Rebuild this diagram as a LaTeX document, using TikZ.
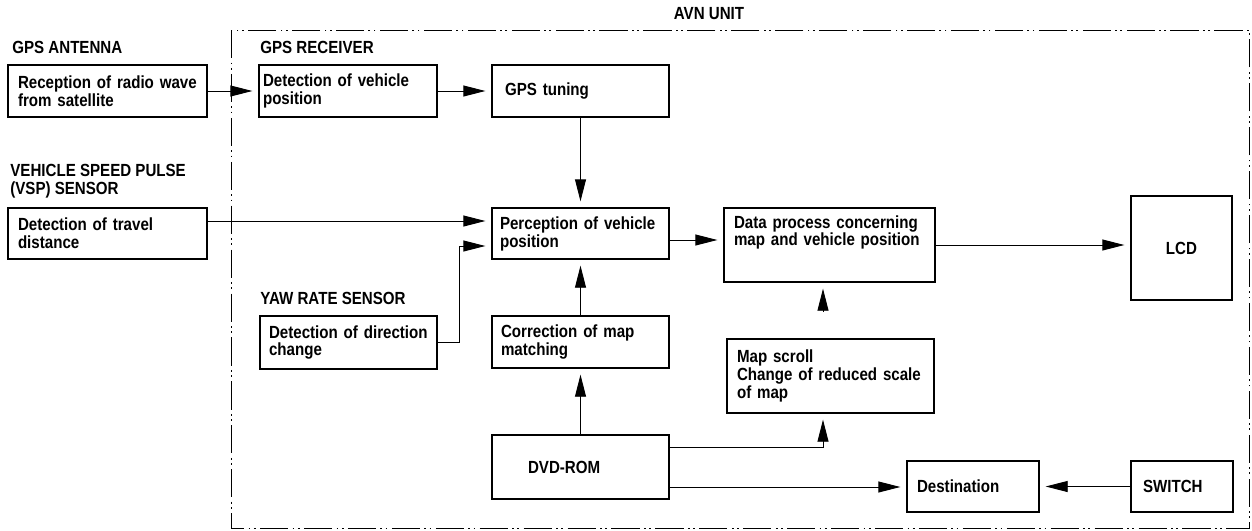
\documentclass[tikz,border=0pt]{standalone}
\usepackage{fontspec}
\setmainfont{Liberation Sans}[FakeStretch=0.86]
\usepackage{tikz}
\usetikzlibrary{arrows.meta}

\begin{document}
\begin{tikzpicture}[x=0.02cm,y=-0.02cm,
   every node/.style={font=\fontsize{10}{10.2}\selectfont\bfseries},
   blk/.style={draw,rectangle,line width=0.8pt,align=left,inner ysep=0.1cm},
   lbl/.style={inner sep=0pt,align=left},
   arr/.style={line width=0.5pt,-{Triangle[length=0.44cm,width=0.22cm]},shorten >=0.12cm},
   avnframe/.style={line width=0.5pt,dash pattern=on 16pt off 2.5pt on 1pt off 2pt on 1pt off 2.5pt}]
\useasboundingbox (0,0) rectangle (1252,531);
\draw[avnframe] (231,30) rectangle (1249,528);

% titles
\node[lbl] (avnlbl) at (709,14) {AVN UNIT};
\node[lbl,anchor=base west] (antlbl) at (12,53) {GPS ANTENNA};
\node[lbl,anchor=base west] (rcvlbl) at (260,53) {GPS RECEIVER};
\node[lbl,anchor=north west] (vsplbl) at (10,164) {VEHICLE SPEED PULSE\\(VSP) SENSOR};
\node[lbl,anchor=base west] (yawlbl) at (260,304) {YAW RATE SENSOR};

% blocks
\node[blk,inner xsep=0.2cm,text width=3.58cm,minimum height=1.04cm] (recv) at (107.5,91) {Reception of radio wave\\from satellite};
\node[blk,inner xsep=0.08cm,text width=3.40cm,minimum height=1.04cm] (detpos) at (348,91) {Detection of vehicle\\position};
\node[blk,inner xsep=0.26cm,text width=3.02cm,minimum height=1.04cm] (tune) at (580.5,91) {GPS tuning};
\node[blk,inner xsep=0.2cm,text width=3.58cm,minimum height=1.02cm] (travel) at (107.5,233.5) {Detection of travel\\distance};
\node[blk,inner xsep=0.16cm,text width=3.22cm,minimum height=1.02cm] (percep) at (580.5,233.5) {Perception of vehicle\\position};
\node[blk,inner xsep=0.2cm,text width=3.82cm,inner ysep=0.14cm,text height=0.26cm,text depth=0.94cm] (data) at (829.5,245) {Data process concerning\\map and vehicle position};
\node[blk,align=center,inner xsep=0.2cm,text width=1.62cm,minimum height=2.08cm] (lcd) at (1181.5,248) {LCD};
\node[blk,inner xsep=0.18cm,text width=3.18cm,minimum height=1.06cm] (yaw) at (348.5,342.5) {Detection of direction\\change};
\node[blk,inner xsep=0.18cm,text width=3.18cm,minimum height=1.04cm] (corr) at (580.5,342) {Correction of map\\matching};
\node[blk,inner xsep=0.2cm,text width=3.74cm,minimum height=1.48cm] (scroll) at (830.5,376) {Map scroll\\Change of reduced scale\\of map};
\node[blk,inner xsep=0.72cm,text width=2.10cm,minimum height=1.28cm] (dvd) at (580.5,467) {DVD-ROM};
\node[blk,inner xsep=0.2cm,text width=2.24cm,minimum height=1.02cm] (dest) at (973,486.5) {Destination};
\node[blk,inner xsep=0.24cm,text width=1.56cm,minimum height=1.02cm] (switch) at (1182,486.5) {SWITCH};

% connections
\coordinate (yawbend) at (459,246);
\coordinate (scrolltip) at (823,312);
\coordinate (dvdbend) at (823,447);
\draw[arr] (recv.east) -- (detpos.west);
\draw[arr] (detpos.east) -- (tune.west);
\draw[arr] (tune.south) -- (percep.north);
\draw[arr] ([yshift=0.25cm]travel.east) -- ([yshift=0.25cm]travel.east -| percep.west);
\draw[arr] (yaw.east) -| (yawbend) -- (yawbend -| percep.west);
\draw[arr] (corr.north) -- (percep.south);
\draw[arr] ([yshift=-0.13cm]percep.east) -- ([yshift=-0.13cm]percep.east -| data.west);
\draw[arr] (data.east) -- (data.east -| lcd.west);
\draw[arr] (scrolltip) -- (scrolltip |- data.south);
\draw[arr] (dvd.north) -- (corr.south);
\draw[arr] (dvd.east |- dvdbend) -| (dvdbend |- scroll.south);
\draw[arr] ([yshift=-0.4cm]dvd.east) -- ([yshift=-0.4cm]dvd.east -| dest.west);
\draw[arr] (switch.west) -- (dest.east);
\end{tikzpicture}
\end{document}
